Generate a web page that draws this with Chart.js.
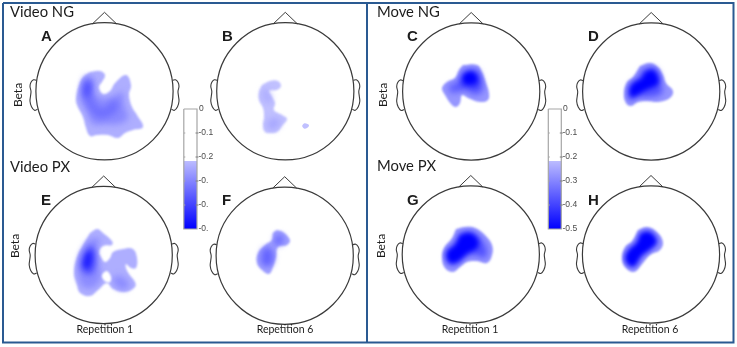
<!DOCTYPE html>
<html>
<head>
<meta charset="utf-8">
<style>html,body{margin:0;padding:0;background:#fff}canvas{display:block}</style>
<script src="https://cdn.jsdelivr.net/npm/chart.js@4/dist/chart.umd.js"></script>
</head>
<body>
<canvas id="c" width="737" height="347"></canvas>
<script>
// Scalp maps, outlines as [x, y] in figure pixels

const blobA = [
  { color: '#aeaeff', blur: 1, pts: [[90,72],[100,71],[105,75],[102,82],[99,87],[103,94],[110,91],[115,83],[126,75],[131,85],[129,95],[132,107],[137,115],[143,127],[133,130],[125,133],[118,138],[108,135],[97,135],[90,136],[86,128],[83,117],[77,105],[76,98],[79,85],[83,77]] },
  { color: '#8a8aff', blur: 3, pts: [[85,76],[93,78],[94,90],[100,98],[112,97],[122,92],[124,105],[128,118],[118,124],[105,124],[93,124],[87,112],[81,100],[81,88]] },
  { color: '#7070ff', blur: 3, pts: [[87,80],[91,82],[91,92],[94,100],[102,108],[115,100],[118,108],[110,116],[98,118],[90,110],[84,97],[84,87]] },
  { color: '#4c4cff', blur: 3, pts: [[85,82],[90,82],[90,92],[87,98],[84,93]] },
];
const blobB = [
  { color: '#c0c0ff', blur: 0.8, pts: [[262,85],[270,81],[278,81],[281,86],[277,90],[269,91],[272,97],[275,103],[274,110],[282,115],[287,119],[282,126],[277,132],[270,133],[265,132],[263,126],[264,117],[263,108],[259,100],[259,92]] },
  { color: '#c0c0ff', blur: 0.6, pts: [[302,126],[304,123.5],[307.5,124],[309,125.5],[307,128],[304,128.5]] },
  { color: '#a8a8ff', blur: 3, pts: [[266,124],[272,118],[280,120],[278,127],[270,130]] },
  { color: '#acacff', blur: 3, pts: [[262,92],[266,88],[271,97],[270,104],[264,100]] },
];
const blobC = [
  { color: '#9696ff', blur: 1, pts: [[463,65],[477,65],[482,72],[486,83],[489,93],[488,100],[480,102],[468,98],[462,95],[460,103],[456,107],[451,104],[445,95],[442,88],[447,82],[455,78],[459,70]] },
  { color: '#5c5cff', blur: 3, pts: [[465,70],[477,70],[481,78],[483,90],[475,95],[465,90],[458,92],[450,92],[450,85],[458,82],[461,75]] },
  { color: '#1818ff', blur: 3, pts: [[466,72],[475,72],[479,80],[476,87],[468,86],[462,85],[462,78]] },
  { color: '#0000ff', blur: 2, pts: [[464,75],[472,73],[476,80],[470,83],[465,82]] },
];
const blobD = [
  { color: '#9494ff', blur: 1, pts: [[640,66],[650,63],[658,67],[663,75],[666,83],[673,91],[670,98],[658,102],[648,101],[638,102],[631,106],[626,103],[624,93],[627,82],[633,77]] },
  { color: '#5050ff', blur: 3, pts: [[642,70],[652,67],[659,73],[661,84],[662,93],[650,97],[638,97],[630,101],[628,92],[631,83],[637,79]] },
  { color: '#0000ff', blur: 2.5, pts: [[645,72],[653,70],[658,77],[658,84],[646,90],[637,95],[631,97],[630,88],[635,82],[641,79]] },
];
const blobE = [
  { color: '#aeaeff', blur: 1, pts: [[90,233],[97,229],[103,233],[112,241],[112,245],[103,246],[99,252],[101,257],[105,262],[110,258],[113,252],[123,249],[133,249],[137,258],[136,268],[131,268],[126,264],[126,268],[129,274],[135,282],[135,287],[125,292],[113,289],[107,283],[98,290],[90,296],[80,293],[77,285],[74,273],[77,257],[83,245]] },
  { color: '#8c8cff', blur: 3, pts: [[86,244],[93,238],[100,240],[95,252],[100,268],[100,280],[92,288],[82,286],[78,272],[80,256]] },
  { color: '#8c8cff', blur: 3, pts: [[112,278],[120,276],[128,282],[128,288],[118,288]] },
  { color: '#4444ff', blur: 3, pts: [[84,253],[90,246],[95,250],[95,265],[90,274],[82,270],[81,262]] },
  { color: '#2222ff', blur: 2, pts: [[86,255],[90,252],[91,262],[87,268],[84,264]] },
  { color: '#ffffff', blur: 0.8, pts: [[103,273],[107,271],[111,277],[110,282],[106,282],[102,277]] },
];
const blobF = [
  { color: '#a0a0ff', blur: 1, pts: [[277,230],[283,232],[290,240],[287,245],[278,247],[276,257],[273,267],[269,274],[262,270],[257,263],[258,253],[265,245],[272,240],[273,233]] },
  { color: '#6464ff', blur: 3, pts: [[262,250],[268,247],[273,252],[273,262],[267,267],[261,262]] },
  { color: '#6c6cff', blur: 3, pts: [[274,238],[279,234],[284,239],[282,244],[275,245]] },
];
const blobG = [
  { color: '#9494ff', blur: 1, pts: [[456,229],[465,227],[475,228],[485,235],[492,245],[492,255],[487,263],[477,261],[467,262],[460,267],[453,272],[445,268],[442,258],[444,248],[452,238]] },
  { color: '#5050ff', blur: 3, pts: [[460,233],[472,232],[482,240],[487,250],[485,258],[475,255],[465,257],[455,265],[448,263],[447,252],[455,243]] },
  { color: '#0000ff', blur: 2.5, pts: [[460,235],[470,233],[478,240],[477,248],[468,253],[457,262],[449,262],[447,252],[455,245]] },
];
const blobH = [
  { color: '#9494ff', blur: 1, pts: [[638,230],[647,227],[657,232],[663,242],[660,250],[650,255],[643,263],[634,272],[625,267],[622,258],[625,247],[632,241]] },
  { color: '#0000ff', blur: 2.5, pts: [[640,233],[648,231],[655,236],[657,243],[650,250],[642,256],[634,267],[627,264],[625,256],[630,248],[636,243]] },
];
const blobs = [blobA, blobB, blobC, blobD, blobE, blobF, blobG, blobH];

// head centres, same order as the panels
const headX = [104.5, 285.3, 471.2, 651.2, 103.7, 284.7, 470.8, 651];
const headY = [91.3, 91.3, 91.5, 91.5, 255, 255.7, 254.5, 254.5];
const earOffsets = [[68,-11],[71,-11.5],[73.5,-9],[74.5,-5],[73.5,0],[74,5],[74.5,10],[73,15.5],[70,19],[67,18]];
const noseOffsets = [[-12,-67.5],[0,-79],[12,-67.5]];

// colour bars
const barTicks = [0, -0.1, -0.2, -0.3, -0.4, -0.5];
const barLabelsLeft = ['0', '-0.1', '-0.2', '-0.', '-0.', '-0.'];
const barLabelsRight = ['0', '-0.1', '-0.2', '-0.3', '-0.4', '-0.5'];
const barCut = -0.217;

const barY = (v) => 109 - v * 240;

const ctxMain = document.getElementById('c').getContext('2d');
const barGrad = ctxMain.createLinearGradient(0, barY(barCut), 0, barY(-0.5));
barGrad.addColorStop(0, '#bcbcff');
barGrad.addColorStop(1, '#0000ff');

const datasets = [];
const add = (ds) => {
  ds.order = -datasets.length; // later ones on top
  datasets.push(ds);
};
const shape = (pts, color, blur) => add({
  data: pts.concat([pts[0]]).map(([x, y]) => ({ x, y })),
  showLine: true, fill: 'shape', backgroundColor: color, borderWidth: 0,
  pointRadius: 0, tension: 0.4, blur,
});
const stroke = (pts, color, width, tension) => add({
  data: pts.map(([x, y]) => ({ x, y })),
  showLine: true, fill: false, borderColor: color, borderWidth: width,
  pointRadius: 0, tension,
});

blobs.forEach((levels) => levels.forEach((l) => shape(l.pts, l.color, l.blur)));

const HEAD = '#3a3a3a';
headX.forEach((cx, i) => {
  const cy = headY[i];
  add({
    data: [{ x: cx, y: cy }], showLine: false, pointRadius: 68.6, pointStyle: 'circle',
    pointBorderColor: HEAD, pointBackgroundColor: 'transparent', pointBorderWidth: 1.2,
  });
  stroke(noseOffsets.map(([x, y]) => [cx + x, cy + y]), HEAD, 1, 0);
  stroke(earOffsets.map(([x, y]) => [cx + x, cy + y]), HEAD, 1.1, 0.4);
  stroke(earOffsets.map(([x, y]) => [cx - x, cy + y]), HEAD, 1.1, 0.4);
});

// bar body: white part, gradient part, then the grey frame
[[183.8, 197], [548.3, 561.3]].forEach(([l, r]) => {
  const rect = (a, b) => [[l, barY(a)], [r, barY(a)], [r, barY(b)], [l, barY(b)], [l, barY(a)]];
  add({ data: rect(barCut, -0.5).map(([x, y]) => ({ x, y })), showLine: true, fill: 'shape',
        backgroundColor: barGrad, borderWidth: 0, pointRadius: 0 });
  stroke(rect(0, -0.5), '#a6a6a6', 1.2, 0);
  barTicks.slice(1, 5).forEach((t) => {
    stroke([[l, barY(t)], [l + 1.5, barY(t)]], '#a6a6a6', 1, 0);
    stroke([[r - 1.5, barY(t)], [r + 1.5, barY(t)]], '#808080', 1, 0);
  });
});

// panel frame
stroke([[3, 3], [733.5, 3], [733.5, 342.5], [3, 342.5], [3, 3]], '#2a5a92', 2, 0);
stroke([[367, 3], [367, 342.5]], '#2a5a92', 2, 0);

const TITLE = '14.8px Lato';
const LETTER = 'bold 15px "Liberation Sans"';
const BETA = '12px Lato';
const REP = '10.5px Lato';
const texts = [
  ['Video NG', 10, 17, TITLE], ['Video PX', 10, 172, TITLE],
  ['Move NG', 377, 17, TITLE], ['Move PX', 377, 171, TITLE],
  ['A', 41, 41, LETTER], ['B', 222, 41, LETTER], ['C', 407, 41, LETTER], ['D', 588, 41, LETTER],
  ['E', 41, 205, LETTER], ['F', 222, 205, LETTER], ['G', 407, 205, LETTER], ['H', 588, 205, LETTER],
  ['Repetition 1', 76.5, 333, REP], ['Repetition 6', 256.7, 333, REP],
  ['Repetition 1', 441.7, 333, REP], ['Repetition 6', 621.7, 333, REP],
];
const betaLabels = [[17.5, 95], [15, 246], [382.7, 95], [381, 246]];

const blurPlugin = {
  id: 'blur',
  beforeDatasetDraw(chart, args) {
    const b = chart.data.datasets[args.index].blur;
    chart.ctx.save();
    if (b) chart.ctx.filter = `blur(${b}px)`;
  },
  afterDatasetDraw(chart) {
    chart.ctx.restore();
  },
};

const textPlugin = {
  id: 'texts',
  afterDatasetsDraw(chart) {
    const { ctx, scales: { x, y } } = chart;
    ctx.save();
    ctx.textBaseline = 'alphabetic';
    ctx.fillStyle = '#1c1c1c';
    texts.forEach(([t, px, py, font]) => {
      ctx.font = font;
      ctx.fillText(t, x.getPixelForValue(px), y.getPixelForValue(py));
    });
    ctx.font = BETA;
    ctx.textAlign = 'center';
    betaLabels.forEach(([px, py]) => {
      ctx.save();
      ctx.translate(x.getPixelForValue(px), y.getPixelForValue(py));
      ctx.rotate(-Math.PI / 2);
      ctx.fillText('Beta', 0, 4);
      ctx.restore();
    });
    ctx.textAlign = 'left';
    ctx.textBaseline = 'middle';
    ctx.font = '8.5px "Liberation Sans"';
    ctx.fillStyle = '#4a4a4a';
    barTicks.forEach((t, i) => {
      ctx.fillText(barLabelsLeft[i], x.getPixelForValue(i === 0 ? 199 : 198.5), y.getPixelForValue(barY(t)));
      ctx.fillText(barLabelsRight[i], x.getPixelForValue(i === 0 ? 563 : 562.5), y.getPixelForValue(barY(t)));
    });
    ctx.restore();
  },
};

// filler has to come after blur so the filter is set when the fill is painted
const filler = Chart.registry.plugins.get('filler');
Chart.unregister(filler);
Chart.register(blurPlugin, filler);

new Chart(ctxMain, {
  type: 'scatter',
  data: { datasets },
  plugins: [textPlugin],
  options: {
    responsive: false,
    animation: false,
    layout: { padding: 0, autoPadding: false },
    plugins: { legend: { display: false }, tooltip: { enabled: false } },
    scales: {
      x: { type: 'linear', min: 0, max: 737, display: false },
      y: { type: 'linear', min: 0, max: 347, reverse: true, display: false },
    },
  },
});
</script>
</body>
</html>
